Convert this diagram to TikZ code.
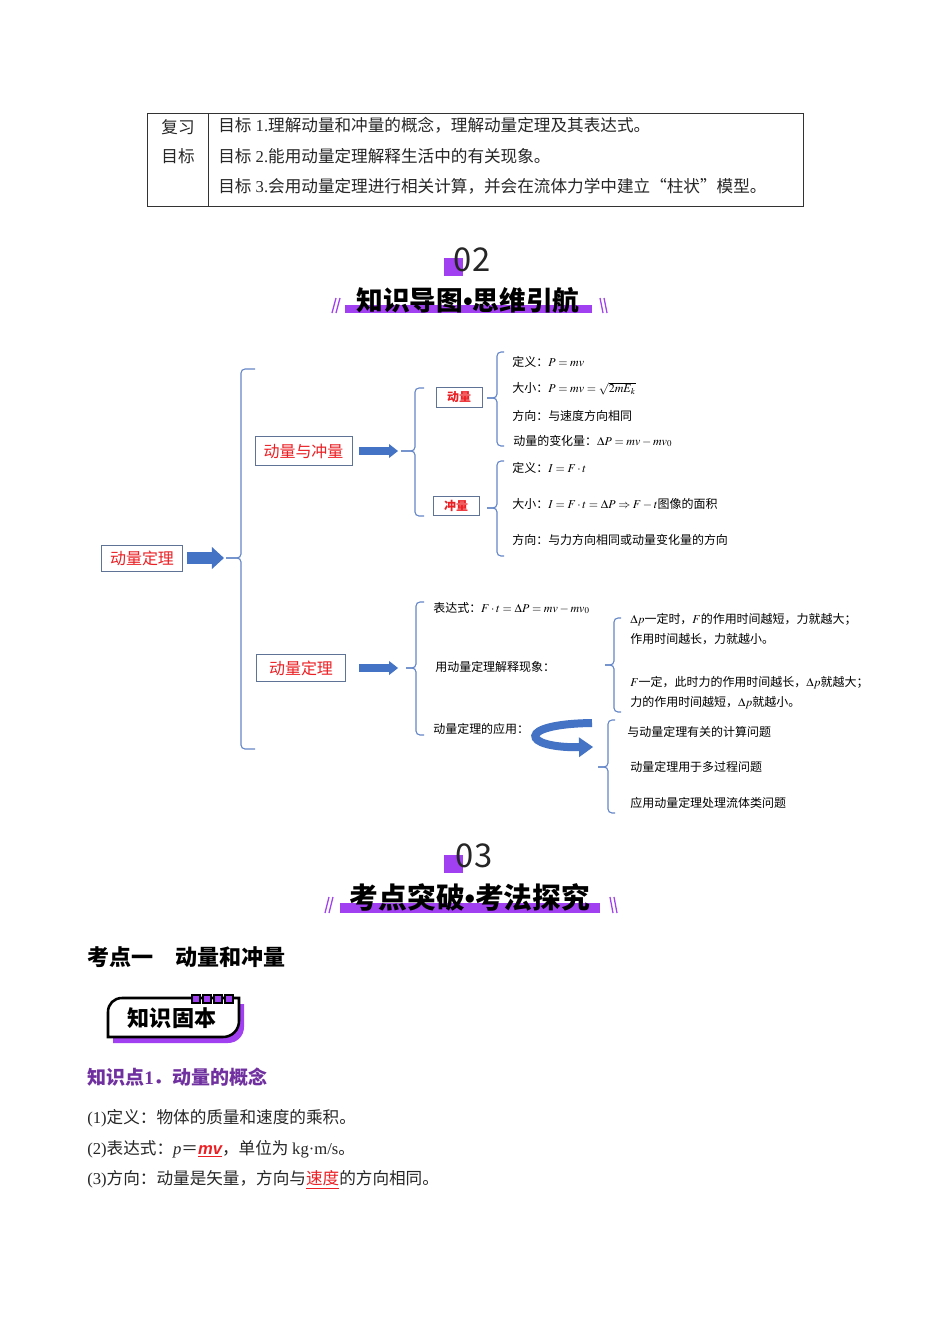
\documentclass[tikz,border=0pt]{standalone}
\usepackage{mathptmx}
\usepackage[no-math]{fontspec}
\setmainfont{Noto Sans CJK SC}
\newfontfamily\lat{Liberation Serif}
\newfontfamily\latsans{Liberation Sans}
\usetikzlibrary{arrows.meta}
\definecolor{hdpurple}{RGB}{160,64,240}
\definecolor{mapblue}{RGB}{68,114,196}
\definecolor{brakblue}{RGB}{100,135,200}
\definecolor{boxgray}{RGB}{95,115,150}
\definecolor{mapred}{RGB}{235,30,35}
\definecolor{kppurple}{RGB}{112,48,160}
\begin{document}
\begin{tikzpicture}[x=0.626pt,y=0.626pt,yscale=-1,
  brak/.style={draw=brakblue,line width=0.7pt,rounded corners=2.5pt},
  redbox/.style={draw=boxgray,line width=0.6pt,text=mapred,inner sep=0pt,font=\fontsize{10}{12}\selectfont},
  smallbox/.style={draw=boxgray,line width=0.6pt,text=mapred,inner sep=0pt,font=\fontsize{7.5}{9}\selectfont\bfseries,minimum width=28.8pt,minimum height=12pt},
  fatarrow/.style={draw=mapblue,line width=6.9pt,-{Triangle[length=7.5pt,width=13.8pt,line width=0pt]}},
  midarrow/.style={draw=mapblue,line width=4.4pt,-{Triangle[length=5.6pt,width=8.8pt,line width=0pt]}},
  curvarrow/.style={draw=mapblue,line width=5pt,-{Triangle[length=8.8pt,width=12.5pt,line width=0pt]}},
  item/.style={anchor=west,inner sep=0pt,font=\fontsize{7.5}{9}\selectfont},
  goal/.style={anchor=west,inner sep=0pt,text=black!85,font=\fontsize{10.4}{12}\selectfont},
  slash/.style={draw=hdpurple,line width=0.8pt},
  hdnum/.style={inner sep=0pt,text=black!85,font=\fontsize{20.5}{24}\selectfont},
  hdtitle/.style={inner sep=0pt,font=\fontsize{16.7}{19}\selectfont\bfseries}]
\fill[white] (0,0) rectangle (950,1344);
\useasboundingbox (0,0) rectangle (950,1344);

%Shape: Table [goals]
\draw[line width=0.5pt,black!80] (147,113) rectangle (803,206);
\draw[line width=0.5pt,black!80] (208,113) -- (208,206);
% Text Node
\node[goal,anchor=center] (tabrev) at (178,127) {复习};
\node[goal,anchor=center] (tabgoal) at (178,156) {目标};
\node[goal] (goal1) at (218,125) {目标{\lat\ 1.}理解动量和冲量的概念，理解动量定理及其表达式。};
\node[goal] (goal2) at (218,156) {目标{\lat\ 2.}能用动量定理解释生活中的有关现象。};
\node[goal] (goal3) at (218,186) {目标{\lat\ 3.}会用动量定理进行相关计算，并会在流体力学中建立“柱状”模型。};

%Shape: Header 02
\fill[hdpurple] (444,258) rectangle (463,276);
\node[hdnum] (num02) at (472,260) {02};
\fill[hdpurple] (345,305) rectangle (592,313);
\node[hdtitle] (head02) at (468,300) {知识导图{\latsans\bfseries •}思维引航};
\draw[slash] (332,313) -- (336,298) (336,313) -- (340,298);
\draw[slash] (600,298) -- (603,313) (604,298) -- (607,313);

%Coordinates: bracket nubs
\coordinate (nub1) at (226,558);
\coordinate (nub2) at (401,451);
\coordinate (nub3) at (487,398);
\coordinate (nub4) at (487,508);
\coordinate (nub5) at (406,668);
\coordinate (nub6) at (605,665);
\coordinate (nub7) at (598,767);

%Curve Lines [brackets]
\draw[brak] (255,369) -- (241,369) -- (241,558) -- (nub1);
\draw[brak] (nub1) -- (241,558) -- (241,749) -- (255,749);
\draw[brak] (424,388) -- (415,388) -- (415,451) -- (nub2);
\draw[brak] (nub2) -- (415,451) -- (415,516) -- (424,516);
\draw[brak] (504,352) -- (497,352) -- (497,398) -- (nub3);
\draw[brak] (nub3) -- (497,398) -- (497,446) -- (504,446);
\draw[brak] (504,461) -- (497,461) -- (497,508) -- (nub4);
\draw[brak] (nub4) -- (497,508) -- (497,556) -- (504,556);
\draw[brak] (424,602) -- (416,602) -- (416,668) -- (nub5);
\draw[brak] (nub5) -- (416,668) -- (416,735) -- (424,735);
\draw[brak] (621,618) -- (614,618) -- (614,665) -- (nub6);
\draw[brak] (nub6) -- (614,665) -- (614,712) -- (621,712);
\draw[brak] (615,720) -- (608,720) -- (608,767) -- (nub7);
\draw[brak] (nub7) -- (608,767) -- (608,813) -- (615,813);

%Shape: Boxes
\node[redbox,minimum width=51.3pt,minimum height=16.3pt] (thm) at (142,558) {动量定理};
\node[redbox,minimum width=60.7pt,minimum height=18.2pt] (mi) at (303.5,451) {动量与冲量};
\node[smallbox] (mom) at (459,397.5) {动量};
\node[smallbox] (imp) at (456,506) {冲量};
\node[redbox,minimum width=56.3pt,minimum height=16.9pt] (thm2) at (301,668) {动量定理};

%Straight Lines [block arrows]
\draw[fatarrow,shorten <=2.5pt,shorten >=1.3pt] (thm) -- (nub1);
\draw[midarrow,shorten <=4.4pt,shorten >=1.9pt] (mi) -- (nub2);
\draw[midarrow,shorten <=8.1pt,shorten >=5pt] (thm2) -- (nub5);

% Text Node
\node[item] (mdef) at (512,362) {定义：$P=mv$};
\node[item] (msize) at (512,389) {大小：$P=mv=\sqrt{2mE_k}$};
\node[item] (mdir) at (512,416) {方向：与速度方向相同};
\node[item] (mchg) at (513,441) {动量的变化量：$\Delta P=mv-mv_0$};
\node[item] (idef) at (512,468) {定义：$I=F\cdot t$};
\node[item] (isize) at (512,504) {大小：$I=F\cdot t=\Delta P\Rightarrow F-t$图像的面积};
\node[item] (idir) at (512,540) {方向：与力方向相同或动量变化量的方向};
\node[item] (expr) at (433,608) {表达式：$F\cdot t=\Delta P=mv-mv_0$};
\node[item] (expl) at (435,667) {用动量定理解释现象：};
\node[item] (appl) at (433,729) {动量定理的应用：};
\node[item] (ph1a) at (630,620) {$\Delta p$一定时，$F$的作用时间越短，力就越大；};
\node[item] (ph1b) at (630,639) {作用时间越长，力就越小。};
\node[item] (ph2a) at (630,683) {$F$一定，此时力的作用时间越长，$\Delta p$就越大；};
\node[item] (ph2b) at (630,703) {力的作用时间越短，$\Delta p$就越小。};
\node[item] (ap1) at (627,732) {与动量定理有关的计算问题};
\node[item] (ap2) at (630,767) {动量定理用于多过程问题};
\node[item] (ap3) at (630,803) {应用动量定理处理流体类问题};

%Curve Lines [turn arrow]
\coordinate (cvs) at (592,723);
\coordinate (cve) at (593,747);
\draw[curvarrow] (cvs) .. controls (515,724) and (522,748) .. (cve);

%Shape: Header 03
\fill[hdpurple] (444,855) rectangle (463,873);
\node[hdnum] (num03) at (474,856) {03};
\fill[hdpurple] (340,903) rectangle (600,913);
\node[hdtitle,font=\fontsize{18}{21}\selectfont\bfseries] (head03) at (470,897) {考点突破{\latsans\bfseries •}考法探究};
\draw[slash] (325,913) -- (329,897) (329,913) -- (333,897);
\draw[slash] (610,897) -- (613,913) (614,897) -- (617,913);

% Text Node
\node[anchor=west,inner sep=0pt,font=\fontsize{13.8}{16}\selectfont\bfseries] (kp1) at (87,957) {考点一　动量和冲量};

%Shape: Badge
\fill[hdpurple,shift={(5,6)}] (108,1037) -- (108,1012) .. controls (108,1004) and (114,998) .. (122,998) -- (239,998) -- (239,1021) .. controls (239,1030) and (232,1037) .. (223,1037) -- cycle;
\draw[line width=1.6pt,fill=white] (108,1037) -- (108,1012) .. controls (108,1004) and (114,998) .. (122,998) -- (239,998) -- (239,1021) .. controls (239,1030) and (232,1037) .. (223,1037) -- cycle;
\foreach \i in {0,...,3}
  \draw[fill=hdpurple,line width=0.8pt] (192+11*\i,995) rectangle ++(8,8);
\node[inner sep=0pt,font=\fontsize{13.8}{16}\selectfont\bfseries] (badge) at (172,1018) {知识固本};

% Text Node
\node[anchor=west,inner sep=0pt,text=kppurple,font=\fontsize{11.9}{14}\selectfont\bfseries] (kd1) at (87,1077) {知识点{\lat\bfseries 1}．动量的概念};
\node[goal] (p1) at (87,1118) {{\lat (1)}定义：物体的质量和速度的乘积。};
\node[goal] (p2) at (87,1149) {{\lat (2)}表达式：{\lat\itshape p}＝{\color{mapred}\underline{\latsans\bfseries\itshape mv}}，单位为 {\lat kg·m/s}。};
\node[goal] (p3) at (87,1180) {{\lat (3)}方向：动量是矢量，方向与{\color{mapred}\underline{速度}}的方向相同。};

\end{tikzpicture}
\end{document}
